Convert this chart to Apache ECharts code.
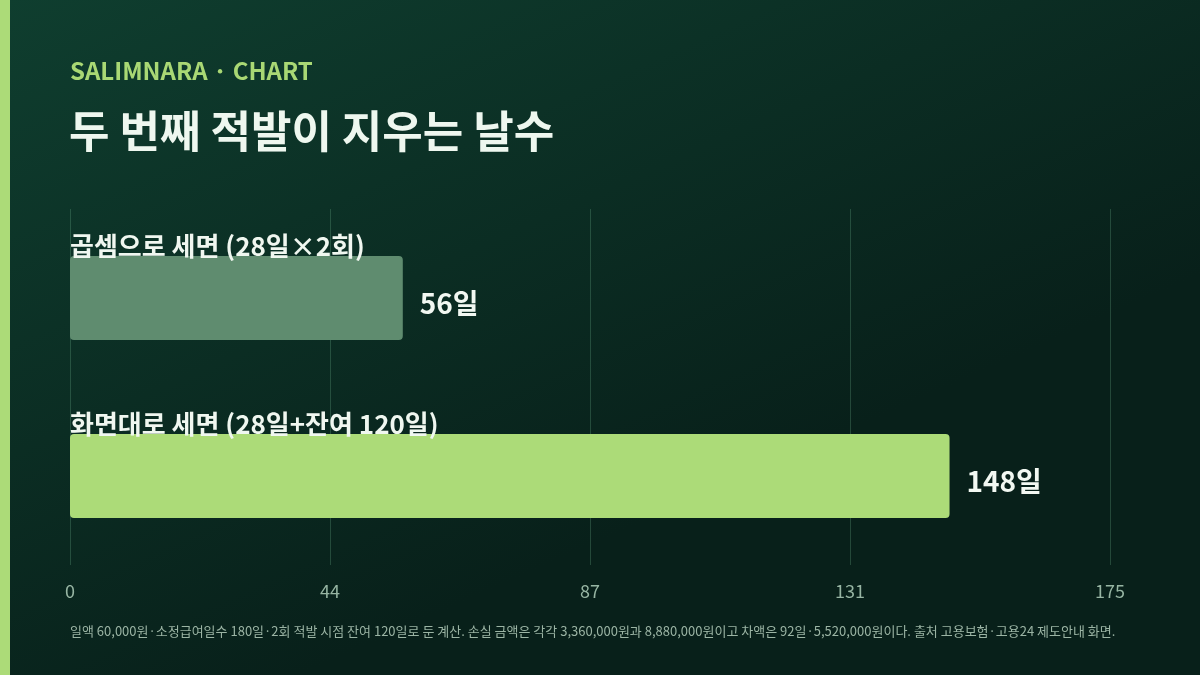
<!DOCTYPE html>
<html><head><meta charset="utf-8">
<script src="https://cdn.jsdelivr.net/npm/echarts@6/dist/echarts.min.js"></script>
<style>html,body{margin:0;padding:0;background:#0b2b21}#c{width:1200px;height:675px}</style>
</head><body><div id="c"></div>
<script>
const categories = ['곱셈으로 세면 (28일×2회)', '화면대로 세면 (28일+잔여 120일)'];
const values = [56, 148];
const barColors = ['#5f8c6f', '#acdb78'];
const axisMax = 175;
const axisInterval = 43.75;
const tickLabels = ['0', '44', '87', '131', '175'];
const eyebrow = 'SALIMNARA · CHART';
const titleText = '두 번째 적발이 지우는 날수';
const footnote = '일액 60,000원·소정급여일수 180일·2회 적발 시점 잔여 120일로 둔 계산. 손실 금액은 각각 3,360,000원과 8,880,000원이고 차액은 92일·5,520,000원이다. 출처 고용보험·고용24 제도안내 화면.';
const FONT = '"Noto Sans CJK KR","Noto Sans",sans-serif';

const chart = echarts.init(document.getElementById('c'));
chart.setOption({
  backgroundColor: new echarts.graphic.LinearGradient(0, 0, 0.25, 1, [
    {offset: 0, color: '#0f3e2f'}, {offset: 1, color: '#08201a'}
  ]),
  textStyle: {fontFamily: FONT},
  title: [
    {text: eyebrow, left: 70, top: 59, padding: 0, textStyle: {color: '#a9d874', fontSize: 24, fontWeight: 'bold', fontFamily: FONT}},
    {text: titleText, left: 69, top: 109, padding: 0, textStyle: {color: '#eef7ef', fontSize: 44, fontWeight: 'bold', fontFamily: FONT}},
    {text: footnote, left: 70, top: 625, padding: 0, textStyle: {color: '#9bb4a4', fontSize: 13, fontWeight: 'normal', fontFamily: FONT}}
  ],
  graphic: [
    {type: 'rect', left: 0, top: 0, shape: {width: 10, height: 675}, style: {fill: '#acdb78'}}
  ],
  grid: {left: 70, right: 90, top: 209, bottom: 110},
  xAxis: {
    type: 'value', min: 0, max: axisMax, interval: axisInterval,
    axisLine: {show: false}, axisTick: {show: false},
    splitLine: {show: true, lineStyle: {color: 'rgba(120,190,150,0.25)', width: 1}},
    axisLabel: {color: '#97b5a3', fontSize: 18, margin: 17, fontFamily: FONT,
      formatter: (v, i) => tickLabels[i]}
  },
  yAxis: {
    type: 'category', data: categories, inverse: true,
    axisLine: {show: false}, axisTick: {show: false}, axisLabel: {show: false}
  },
  series: [{
    type: 'bar', barWidth: 84,
    data: values.map((v, i) => ({value: v, itemStyle: {color: barColors[i]}})),
    itemStyle: {borderRadius: 4},
    label: {show: true, position: 'right', distance: 17, offset: [0, 5], color: '#f2f8f2', fontSize: 28,
      fontWeight: 'bold', fontFamily: FONT, formatter: p => p.value + '일'},
    silent: true, animation: false
  }, {
    type: 'bar', barWidth: 84, barGap: '-100%',
    data: values,
    itemStyle: {color: 'rgba(0,0,0,0)'},
    label: {show: true, position: [0, 3], align: 'left', verticalAlign: 'bottom', color: '#f0f7f0',
      fontSize: 26, fontWeight: 'bold', fontFamily: FONT, formatter: p => categories[p.dataIndex]},
    silent: true, animation: false, z: 5
  }]
});
</script></body></html>
